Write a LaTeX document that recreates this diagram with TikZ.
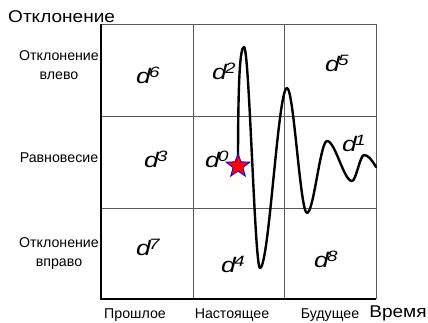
\documentclass[tikz,border=0pt]{standalone}
\usepackage{fontspec}
\setmainfont{Liberation Sans}
\newfontfamily\dfont[FakeStretch=1.25]{Liberation Sans}
\newfontfamily\bigfont[FakeStretch=1.12]{Liberation Sans}
\usetikzlibrary{shapes.geometric}
\begin{document}
\begin{tikzpicture}[x=1pt,y=-1pt,
  grid/.style={draw=black!65,line width=0.9pt},
  axis/.style={draw=black,line width=1.1pt},
  big/.style={font=\bigfont\fontsize{17}{19}\selectfont,inner sep=0pt},
  small/.style={font=\fontsize{14.2}{19}\selectfont,inner sep=0pt,align=center},
  dlab/.style={font=\dfont\fontsize{21}{22}\selectfont\itshape,inner sep=0pt,anchor=base west},
  wave/.style={draw=black,line width=2.4pt,line cap=round,line join=round}]
\useasboundingbox (0,0) rectangle (428,322);
% grid
\draw[grid] (101,116) -- (376,116) (101,208) -- (376,208);
\draw[grid] (193,24) -- (193,299) (284,24) -- (284,299);
\draw[grid] (101,24) -- (376,24) -- (376,299);
\draw[axis] (101,24) -- (101,299) -- (376,299);
% axis titles
\node[big,anchor=base west] (ytitle) at (8,22) {Отклонение};
\node[big,anchor=base] (xtitle) at (398,317) {Время};
% row labels
\node[small,anchor=base] (r1) at (59,79) {Отклонение\\влево};
\node[small,anchor=base] (r2) at (59,162) {Равновесие};
\node[small,anchor=base] (r3) at (59,266) {Отклонение\\вправо};
% column labels
\node[small,anchor=base] (c1) at (135,318) {Прошлое};
\node[small,anchor=base] (c2) at (232,318) {Настоящее};
\node[small,anchor=base] (c3) at (330,318) {Будущее};
% d labels
\newcommand{\dsup}[1]{d\kern-1.8pt\raisebox{5.5pt}{\fontsize{15}{15}\selectfont #1}}
\node[dlab] (d6) at (136,83) {\dsup{6}};
\node[dlab] (d2) at (212,79) {\dsup{2}};
\node[dlab] (d5) at (325,71) {\dsup{5}};
\node[dlab] (d3) at (144,167) {\dsup{3}};
\node[dlab] (d0) at (205,167) {\dsup{0}};
\node[dlab] (d1) at (342,151) {\dsup{1}};
\node[dlab] (d7) at (136,255) {\dsup{7}};
\node[dlab] (d4) at (221,272) {\dsup{4}};
\node[dlab] (d8) at (314,267) {\dsup{8}};
% wave
\coordinate (s) at (238,166);
\draw[wave] (s) .. controls (238,80) and (240,47) .. (244,47)
  .. controls (249.3,47) and (254.7,268) .. (260,268)
  .. controls (269,268) and (278,88) .. (287,88)
  .. controls (293.7,88) and (300.3,213) .. (307,213)
  .. controls (313.7,213) and (320.3,141) .. (327,141)
  .. controls (335.3,141) and (343.7,181) .. (352,181)
  .. controls (356,181) and (360,155) .. (364,155)
  .. controls (368,155) and (372,160) .. (376,167);
\node[star,star points=5,star point ratio=2.4,fill=red,draw=blue,line width=0.8pt,minimum size=25pt,inner sep=0pt] (star) at (s) {};
\end{tikzpicture}
\end{document}
